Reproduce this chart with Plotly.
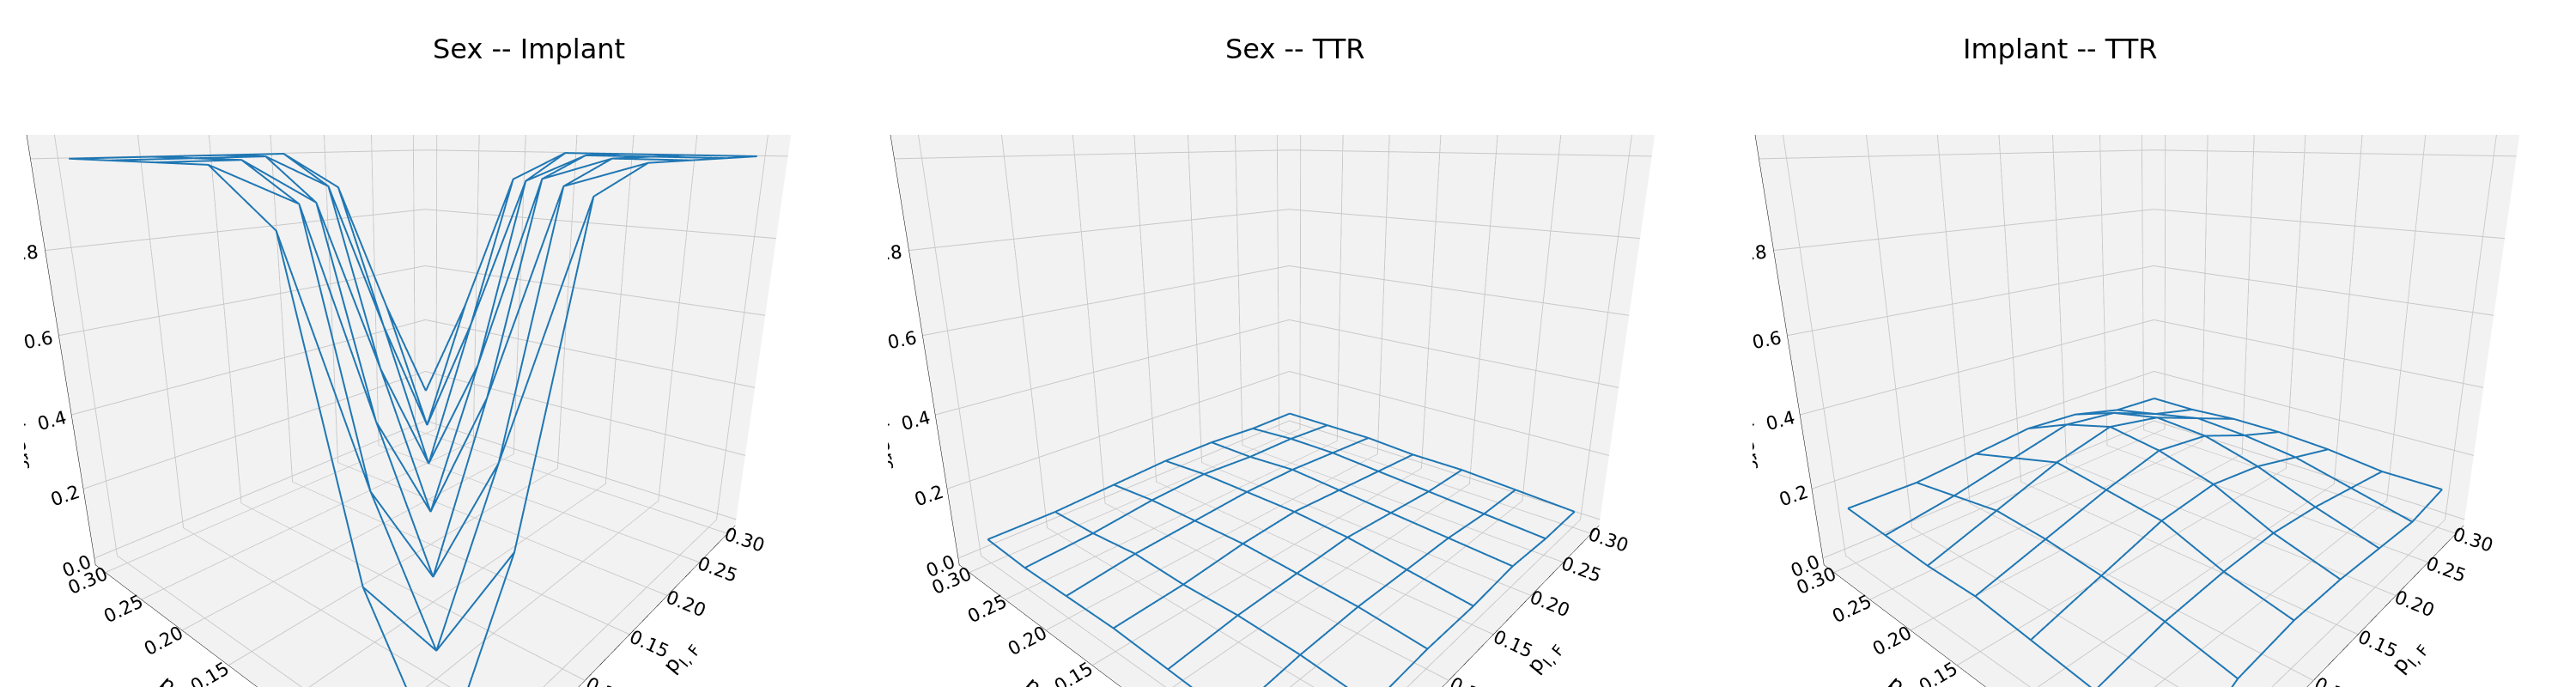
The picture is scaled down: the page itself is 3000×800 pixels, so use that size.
import plotly.graph_objects as go

# grid values
p_f = [0.00, 0.05, 0.10, 0.15, 0.20, 0.25, 0.30]
p_m = [0.00, 0.05, 0.10, 0.15, 0.20, 0.25, 0.30]

# rows = y index, cols = x index
z_sex_implant = [
    [0.02, 0.35, 0.95, 1.00, 1.00, 1.00, 1.00],
    [0.30, 0.05, 0.40, 0.95, 1.00, 1.00, 1.00],
    [0.90, 0.35, 0.05, 0.45, 0.95, 1.00, 1.00],
    [1.00, 0.92, 0.40, 0.08, 0.45, 0.93, 1.00],
    [1.00, 1.00, 0.90, 0.45, 0.10, 0.50, 0.92],
    [1.00, 1.00, 1.00, 0.92, 0.50, 0.12, 0.50],
    [1.00, 1.00, 1.00, 1.00, 0.90, 0.50, 0.15],
]
z_sex_ttr = [
    [0.00, 0.02, 0.03, 0.03, 0.04, 0.03, 0.03],
    [0.02, 0.04, 0.05, 0.05, 0.05, 0.04, 0.04],
    [0.03, 0.05, 0.06, 0.07, 0.06, 0.05, 0.05],
    [0.04, 0.05, 0.07, 0.08, 0.07, 0.06, 0.05],
    [0.04, 0.06, 0.07, 0.08, 0.08, 0.07, 0.06],
    [0.04, 0.05, 0.07, 0.08, 0.07, 0.07, 0.06],
    [0.05, 0.05, 0.06, 0.07, 0.07, 0.06, 0.06],
]
z_implant_ttr = [
    [0.00, 0.08, 0.10, 0.10, 0.09, 0.08, 0.10],
    [0.08, 0.12, 0.14, 0.15, 0.14, 0.12, 0.10],
    [0.10, 0.15, 0.20, 0.22, 0.20, 0.16, 0.12],
    [0.12, 0.17, 0.22, 0.26, 0.24, 0.18, 0.13],
    [0.12, 0.18, 0.24, 0.28, 0.25, 0.19, 0.13],
    [0.13, 0.16, 0.20, 0.24, 0.22, 0.16, 0.12],
    [0.14, 0.14, 0.16, 0.18, 0.17, 0.13, 0.12],
]

panels = [
    ("Sex -- Implant", z_sex_implant, "p<sub>I, M</sub>"),
    ("Sex -- TTR", z_sex_ttr, "p<sub>I, F</sub>"),
    ("Implant -- TTR", z_implant_ttr, "p<sub>I, M</sub>"),
]

fig = go.Figure()
domains = [(0.0, 0.32), (0.34, 0.66), (0.68, 1.0)]

for k, (title, z, ylab) in enumerate(panels):
    xs, ys, zs = [], [], []
    for i, yv in enumerate(p_m):
        for j, xv in enumerate(p_f):
            xs.append(xv); ys.append(yv); zs.append(z[i][j])
        xs.append(None); ys.append(None); zs.append(None)
    for j, xv in enumerate(p_f):
        for i, yv in enumerate(p_m):
            xs.append(xv); ys.append(yv); zs.append(z[i][j])
        xs.append(None); ys.append(None); zs.append(None)
    scene = "scene" if k == 0 else f"scene{k+1}"
    fig.add_trace(go.Scatter3d(x=xs, y=ys, z=zs, mode="lines",
                               line=dict(color="#1f77b4", width=4),
                               showlegend=False, hoverinfo="skip", scene=scene))
    ax = dict(showbackground=True, backgroundcolor="#f2f2f2", gridcolor="#c8c8c8",
              zeroline=False, tickfont=dict(size=16, color="black"), showline=True,
              linecolor="black")
    fig.update_layout(**{scene: dict(
        domain=dict(x=list(domains[k]), y=[0, 0.93]),
        xaxis=dict(ax, title=dict(text="p<sub>I, F</sub>", font=dict(size=24)),
                   range=[-0.015, 0.315], tickvals=p_f, ticktext=[f"{v:.2f}" for v in p_f]),
        yaxis=dict(ax, title=dict(text=ylab, font=dict(size=24)),
                   range=[-0.015, 0.315], tickvals=p_m, ticktext=[f"{v:.2f}" for v in p_m]),
        zaxis=dict(ax, title=dict(text="Proportion with arc", font=dict(size=22)),
                   range=[-0.02, 1.05], tickvals=[0, 0.2, 0.4, 0.6, 0.8, 1.0],
                   ticktext=["0.0", "0.2", "0.4", "0.6", "0.8", "1.0"]),
        aspectmode="manual", aspectratio=dict(x=1.1, y=1.0, z=0.9),
        camera=dict(eye=dict(x=-1.15, y=-1.0, z=0.45), center=dict(x=0, y=0, z=-0.05)),
    )})
    fig.add_annotation(text=title, x=sum(domains[k]) / 2, y=0.99, xref="paper", yref="paper",
                       showarrow=False, font=dict(size=32, color="black"))

fig.update_layout(width=3000, height=800, paper_bgcolor="white",
                  font=dict(family="DejaVu Sans", color="black"),
                  margin=dict(l=20, r=20, t=20, b=5))
fig.write_html("out.html")
